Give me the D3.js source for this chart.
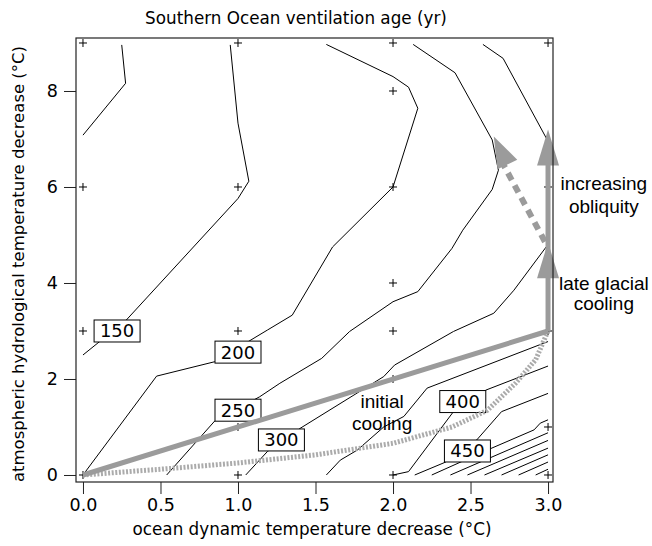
<!DOCTYPE html>
<html>
<head>
<meta charset="utf-8">
<script src="https://cdn.jsdelivr.net/npm/d3@7"></script>
<style>
  body { margin: 0; background: #fff; }
  text { fill: #000; }
</style>
</head>
<body>
<script>
const width = 652
const height = 546

const xTicks = [0, 0.5, 1, 1.5, 2, 2.5, 3]
const yTicks = [0, 2, 4, 6, 8]

// model runs (the small crosses)
const runs = [
    [0, 9], [1, 9], [2, 9], [3, 9], [2, 8],
    [0, 6], [1, 6], [2, 6], [3, 6], [2, 4],
    [0, 3], [1, 3], [2, 3], [3, 3], [2, 2],
    [1, 1], [3, 1], [0, 0], [1, 0], [2, 0], [3, 0]
]

// ventilation age contours
const c100 = [[0.25, 8.96], [0.275, 8.16], [0, 7.08]]
const c150 = [[0.95, 8.96], [1.0, 7.33], [1.07, 6.12], [1.0, 5.76], [0.28, 3.23], [0, 2.5]]
const c200 = [[1.57, 8.97], [2.0, 8.3], [2.1, 8.08], [2.16, 7.64], [2.0, 6.0], [1.61, 4.75],
    [1.35, 3.33], [1.19, 3.02], [0.85, 2.36], [0.475, 2.06], [0, 0]]
const c250 = [[2.13, 8.97], [2.4, 8.38], [2.64, 6.98], [2.68, 6.35], [2.64, 5.95], [2.45, 5.1],
    [2.38, 4.72], [2.16, 3.82], [2.0, 3.61], [1.72, 2.99], [1.54, 2.43], [1.27, 1.91],
    [1.14, 1.63], [0.85, 1.125], [0.54, 0]]
const c300 = [[2.58, 8.97], [2.71, 8.68], [2.99, 7.01], [2.99, 4.76], [2.78, 3.85], [2.65, 3.37],
    [2.39, 2.99], [2.01, 2.29], [1.94, 2.05], [1.4, 0.97], [1.19, 0.49], [1.05, 0]]
const c350 = [[3.0, 2.78], [2.22, 1.81], [2.07, 1.22], [1.94, 1.0], [1.77, 0.52], [1.66, 0.31], [1.57, 0]]
const c400 = [[3.0, 2.27], [2.6, 1.77], [2.39, 1.32], [2.1, 0.07], [2.0, 0]]
const c450 = [[3.0, 1.7], [2.7, 1.32], [2.54, 0.73], [2.34, 0.27], [2.14, 0]]
const c500 = [[3.0, 1.15], [2.95, 1.08], [2.91, 0.94], [2.63, 0.55], [2.25, 0]]
// dense contours in the lower right corner
const denseBottom = [2.37, 2.48, 2.59, 2.70, 2.81, 2.92]
const denseRight = [0.88, 0.72, 0.56, 0.42, 0.27, 0.12]

const contourLabels = ['150', '200', '250', '300', '400', '450']
const labelAt = [[0.22, 3.0], [1.0, 2.56], [1.0, 1.35], [1.28, 0.73], [2.45, 1.53], [2.48, 0.5]]

// pathways
const initialPath = [[0, 0], [3, 3]]
const lateGlacial = [[3, 3], [3, 7.2]]
const midArrowTip = [3, 4.85]
const obliquityPath = [[2.98, 4.86], [2.65, 7.05]]
const initialCurve = [[0, 0], [0.5, 0.12], [1.0, 0.25], [1.5, 0.42], [2.0, 0.66], [2.38, 1.0],
    [2.61, 1.35], [2.79, 1.91], [2.92, 2.4], [3.0, 3.0]]

const svg = d3.select('body').append('svg').attr('width', width).attr('height', height)

const x = d3.scaleLinear().domain([-0.045, 3.032]).range([76, 553])
const y = d3.scaleLinear().domain([-0.146, 9.104]).range([482, 38])

const axisFont = "'DejaVu Sans', sans-serif"
const noteFont = "'Liberation Sans', Arial, sans-serif"
const grey = '#9b9b9b'

const line = d3.line().x(d => x(d[0])).y(d => y(d[1]))

// contours
const allContours = [c100, c150, c200, c250, c300, c350, c400, c450, c500]
denseBottom.forEach((b, i) => allContours.push([[b, 0], [3.0, denseRight[i]]]))

svg.append('g').selectAll('path')
    .data(allContours)
    .enter().append('path')
    .attr('d', line)
    .attr('fill', 'none')
    .attr('stroke', '#000')
    .attr('stroke-width', 1)

// crosses
const cross = svg.append('g').attr('stroke', '#000').attr('stroke-width', 1)
runs.forEach(r => {
    cross.append('path')
        .attr('d', `M${x(r[0]) - 4},${y(r[1])}h8M${x(r[0])},${y(r[1]) - 4}v8`)
})

// contour labels
const lab = svg.append('g')
contourLabels.forEach((t, i) => {
    const cx = x(labelAt[i][0]), cy = y(labelAt[i][1])
    const bw = 46, bh = 22
    lab.append('rect')
        .attr('x', cx - bw / 2).attr('y', cy - bh / 2)
        .attr('width', bw).attr('height', bh)
        .attr('fill', '#fff').attr('stroke', '#000').attr('stroke-width', 1)
    lab.append('text')
        .attr('x', cx).attr('y', cy + 6.5)
        .attr('text-anchor', 'middle')
        .style('font-family', axisFont).style('font-size', '18px')
        .text(t)
})

// grey pathways
const paths = svg.append('g').attr('fill', 'none').attr('stroke', grey)

paths.append('path').attr('d', line(initialCurve))
    .attr('stroke', '#ababab').attr('stroke-width', 5).attr('stroke-dasharray', '2,1.6')

paths.append('path').attr('d', line(initialPath)).attr('stroke-width', 5)
paths.append('path').attr('d', line([lateGlacial[0], [3, 6.6]])).attr('stroke-width', 5)

paths.append('path').attr('d', line([obliquityPath[0], [2.69, 6.6]]))
    .attr('stroke-width', 6).attr('stroke-dasharray', '8,6')

function arrowHead(tip, from, len, half) {
    const tx = x(tip[0]), ty = y(tip[1])
    const fx = x(from[0]), fy = y(from[1])
    const l = Math.hypot(tx - fx, ty - fy)
    const ux = (tx - fx) / l, uy = (ty - fy) / l
    const bx = tx - ux * len, by = ty - uy * len
    return `M${tx},${ty}L${bx - uy * half},${by + ux * half}L${bx + uy * half},${by - ux * half}Z`
}

svg.append('path').attr('d', arrowHead(lateGlacial[1], lateGlacial[0], 36, 11)).attr('fill', grey)
svg.append('path').attr('d', arrowHead(midArrowTip, lateGlacial[0], 36, 11)).attr('fill', grey)
svg.append('path').attr('d', arrowHead(obliquityPath[1], obliquityPath[0], 31, 11)).attr('fill', grey)

// frame
svg.append('rect')
    .attr('x', x.range()[0]).attr('y', y.range()[1])
    .attr('width', x.range()[1] - x.range()[0]).attr('height', y.range()[0] - y.range()[1])
    .attr('fill', 'none').attr('stroke', '#222').attr('stroke-width', 1.2)

// axes
const xAxis = svg.append('g')
    .attr('transform', `translate(0,${y.range()[0]})`)
    .call(d3.axisBottom(x).tickValues(xTicks).tickFormat(d3.format('.1f')).tickSize(12).tickPadding(5))
const yAxis = svg.append('g')
    .attr('transform', `translate(${x.range()[0]},0)`)
    .call(d3.axisLeft(y).tickValues(yTicks).tickFormat(d3.format('d')).tickSize(12).tickPadding(6))

;[xAxis, yAxis].forEach(a => {
    a.select('.domain').remove()
    a.selectAll('.tick line').attr('stroke', '#222')
    a.selectAll('.tick text').style('font-family', axisFont).style('font-size', '17.5px').attr('fill', '#000')
})

svg.append('text')
    .attr('x', 296).attr('y', 24)
    .attr('text-anchor', 'middle')
    .style('font-family', axisFont).style('font-size', '16.8px')
    .text('Southern Ocean ventilation age (yr)')

svg.append('text')
    .attr('x', 312).attr('y', 535)
    .attr('text-anchor', 'middle')
    .style('font-family', axisFont).style('font-size', '16.8px')
    .text('ocean dynamic temperature decrease (°C)')

svg.append('text')
    .attr('transform', `translate(24,${(y.range()[0] + y.range()[1]) / 2 + 4}) rotate(-90)`)
    .attr('text-anchor', 'middle')
    .style('font-family', axisFont).style('font-size', '16.5px')
    .text('atmospheric hydrological temperature decrease (°C)')

// annotations
function note(lines, at, dy) {
    const t = svg.append('text')
        .attr('text-anchor', 'middle')
        .style('font-family', noteFont).style('font-size', '19px')
    lines.forEach((s, i) => {
        t.append('tspan').attr('x', x(at[0])).attr('y', y(at[1]) + i * dy).text(s)
    })
}
note(['increasing', 'obliquity'], [3.36, 5.94], 23)
note(['late glacial', 'cooling'], [3.36, 3.86], 20)
note(['initial', 'cooling'], [1.93, 1.4], 22)
</script>
</body>
</html>
